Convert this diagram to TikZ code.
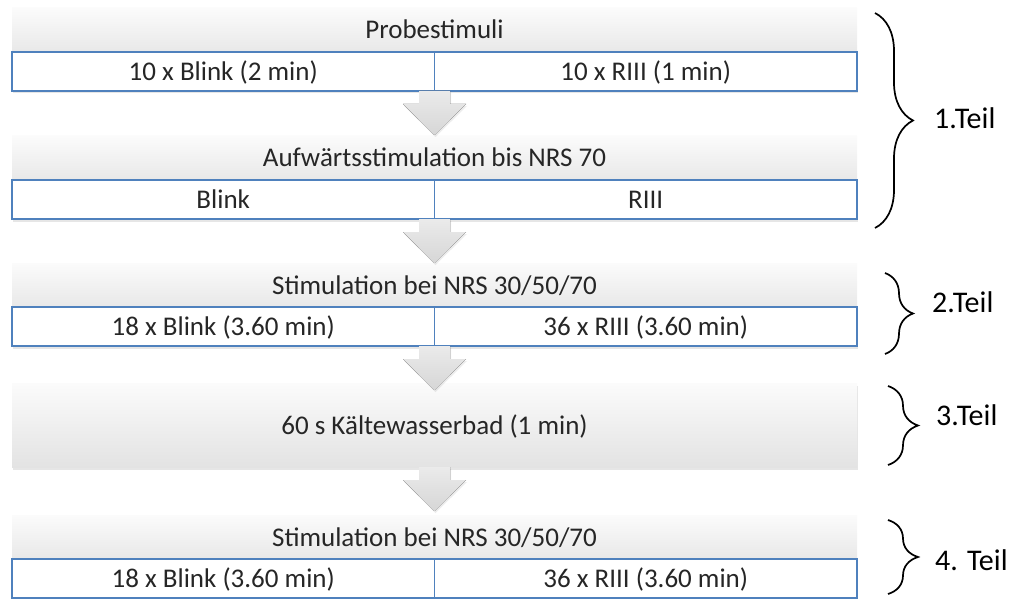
\documentclass[tikz,border=0pt]{standalone}
\usepackage{fontspec}
\setmainfont{Carlito}
\usetikzlibrary{shadows,decorations.pathreplacing,calc}
\definecolor{rahmenblau}{HTML}{4F81BD}
\definecolor{schrift}{HTML}{262626}

\tikzset{
  kopf/.style={anchor=north west, minimum width=845pt, minimum height=44pt, inner sep=0pt,
    outer sep=0pt, top color=gray!3, bottom color=gray!18, text=schrift,
    font=\fontsize{27}{32}\selectfont, text height=18pt, text depth=0pt},
  zelle/.style={anchor=north west, minimum width=422.5pt, minimum height=39pt, inner sep=0pt,
    outer sep=0pt, fill=white, draw=rahmenblau, line width=1.5pt, text=schrift,
    font=\fontsize{27}{32}\selectfont, text height=18pt, text depth=0pt,
    drop shadow={shadow xshift=1pt, shadow yshift=-2.5pt, opacity=0.2}},
  pfeil/.style={top color=gray!16, bottom color=gray!32, draw=none,
    drop shadow={shadow xshift=1pt, shadow yshift=-2pt, opacity=0.15}},
  klammer/.style={decorate, decoration={brace, aspect=0.5}, line width=1.7pt},
  teil/.style={anchor=base west, inner sep=0pt, font=\fontsize{30}{35}\selectfont}
}

\begin{document}
\begin{tikzpicture}[x=1pt, y=-1pt]
\useasboundingbox (0,0) rectangle (1010,599);
% Bloecke mit Kopf und zwei Zellen
\foreach \n/\ypos/\kopftxt/\links/\rechts in {%
    1/8/{Probestimuli}/{10 x Blink (2 min)}/{10 x RIII (1 min)},%
    2/136/{Aufwärtsstimulation bis NRS 70}/{Blink}/{RIII},%
    3/263/{Stimulation bei NRS 30/50/70}/{18 x Blink (3.60 min)}/{36 x RIII (3.60 min)},%
    5/515/{Stimulation bei NRS 30/50/70}/{18 x Blink (3.60 min)}/{36 x RIII (3.60 min)}%
}{
    \node[kopf] (k\n) at (12,\ypos) {\kopftxt};
    \node[zelle] (l\n) at (k\n.south west) {\links};
    \node[zelle] (r\n) at (l\n.north east) {\rechts};
    \coordinate (unten\n) at (l\n.south east);
}
% Block ohne Zellen
\node[kopf, minimum height=84pt, bottom color=gray!22,
  drop shadow={shadow xshift=1pt, shadow yshift=-2.5pt, opacity=0.2}] (k4) at (12,383) {60 s Kältewasserbad (1 min)};
\coordinate (unten4) at (k4.south);

% Pfeile zwischen den Bloecken
\foreach \n in {1,...,4}{
    \fill[pfeil, shift={(unten\n)}] (-15.5,0) -- (15.5,0) -- (15.5,13) -- (31.5,13) -- (0,44)
      -- (-31.5,13) -- (-15.5,13) -- cycle;
}

% Klammern rechts
\foreach \n/\yo/\yu/\xk/\amp in {1/13/228/875/38, 2/273/354/885/28, 3/386/465/888/30, 4/520/594/888/30}{
    \coordinate (ko\n) at (\xk,\yo);
    \coordinate (ku\n) at (\xk,\yu);
    \draw[klammer, decoration={amplitude=\amp pt}] (ko\n) -- (ku\n);
}
\node[teil] (t1) at (934,129) {1.Teil};
\node[teil] (t2) at (932,312) {2.Teil};
\node[teil] (t3) at (936,425) {3.Teil};
\node[teil] (t4) at (935,570) {4. Teil};
\end{tikzpicture}
\end{document}
